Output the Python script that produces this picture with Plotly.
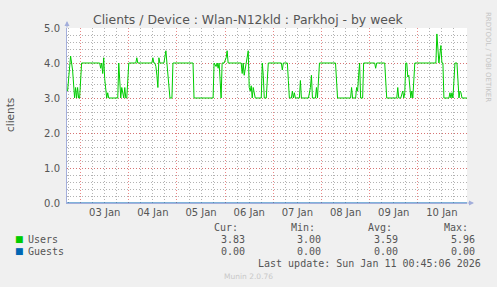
import plotly.graph_objects as go

# ---------------- data ----------------
user_times = [
    "2026-01-02 17:30", "2026-01-02 19:00", "2026-01-02 20:00", "2026-01-02 21:00", "2026-01-02 21:30",
    "2026-01-02 22:00", "2026-01-02 22:30", "2026-01-02 23:00", "2026-01-02 23:30",
    "2026-01-03 00:30", "2026-01-03 09:30", "2026-01-03 10:00", "2026-01-03 10:30", "2026-01-03 11:00",
    "2026-01-03 11:30", "2026-01-03 12:00", "2026-01-03 13:00", "2026-01-03 13:30", "2026-01-03 14:00",
    "2026-01-03 18:30", "2026-01-03 19:00", "2026-01-03 19:30", "2026-01-03 20:00", "2026-01-03 20:30",
    "2026-01-03 21:30", "2026-01-03 22:00", "2026-01-03 22:30", "2026-01-03 23:00",
    "2026-01-04 00:00", "2026-01-04 03:30", "2026-01-04 04:00", "2026-01-04 04:30", "2026-01-04 11:30",
    "2026-01-04 12:00", "2026-01-04 12:30", "2026-01-04 13:00", "2026-01-04 13:30", "2026-01-04 14:00",
    "2026-01-04 14:30", "2026-01-04 15:00", "2026-01-04 15:30", "2026-01-04 17:30", "2026-01-04 18:30",
    "2026-01-04 19:00", "2026-01-04 19:30", "2026-01-04 20:00", "2026-01-04 20:30", "2026-01-04 21:30",
    "2026-01-04 22:00",
    "2026-01-05 08:00", "2026-01-05 08:30", "2026-01-05 18:00", "2026-01-05 18:30", "2026-01-05 19:30",
    "2026-01-05 20:00", "2026-01-05 20:30", "2026-01-05 21:00", "2026-01-05 22:00", "2026-01-05 22:30",
    "2026-01-05 23:30",
    "2026-01-06 00:30", "2026-01-06 01:00", "2026-01-06 01:30", "2026-01-06 08:00", "2026-01-06 08:30",
    "2026-01-06 09:00", "2026-01-06 09:30", "2026-01-06 10:30", "2026-01-06 11:00", "2026-01-06 11:30",
    "2026-01-06 12:00", "2026-01-06 12:30", "2026-01-06 13:00", "2026-01-06 13:30", "2026-01-06 14:00",
    "2026-01-06 14:30", "2026-01-06 15:00", "2026-01-06 18:00", "2026-01-06 18:30", "2026-01-06 19:00",
    "2026-01-06 19:30", "2026-01-06 20:30", "2026-01-06 21:30",
    "2026-01-07 04:00", "2026-01-07 04:30", "2026-01-07 05:00", "2026-01-07 07:00", "2026-01-07 07:30",
    "2026-01-07 08:00", "2026-01-07 09:00", "2026-01-07 09:30", "2026-01-07 10:00", "2026-01-07 10:30",
    "2026-01-07 11:00", "2026-01-07 13:00", "2026-01-07 13:30", "2026-01-07 14:00", "2026-01-07 17:30",
    "2026-01-07 18:30", "2026-01-07 19:00", "2026-01-07 19:30", "2026-01-07 21:00", "2026-01-07 21:30",
    "2026-01-07 22:00", "2026-01-07 23:00",
    "2026-01-08 07:00", "2026-01-08 08:00", "2026-01-08 14:30", "2026-01-08 15:00", "2026-01-08 15:30",
    "2026-01-08 17:00", "2026-01-08 17:30", "2026-01-08 18:00", "2026-01-08 18:30", "2026-01-08 19:00",
    "2026-01-08 19:30", "2026-01-08 20:30", "2026-01-08 21:00",
    "2026-01-09 02:30", "2026-01-09 03:00", "2026-01-09 03:30", "2026-01-09 07:30", "2026-01-09 08:30",
    "2026-01-09 13:30", "2026-01-09 14:00", "2026-01-09 14:30", "2026-01-09 15:30", "2026-01-09 16:30",
    "2026-01-09 17:00", "2026-01-09 17:30", "2026-01-09 18:00", "2026-01-09 18:30", "2026-01-09 19:00",
    "2026-01-09 19:30", "2026-01-09 20:30", "2026-01-09 21:00", "2026-01-09 21:30", "2026-01-09 22:30",
    "2026-01-10 09:00", "2026-01-10 09:30", "2026-01-10 10:30", "2026-01-10 11:30", "2026-01-10 12:00",
    "2026-01-10 12:30", "2026-01-10 13:00", "2026-01-10 15:30", "2026-01-10 16:00", "2026-01-10 16:30",
    "2026-01-10 17:00", "2026-01-10 17:30", "2026-01-10 18:30", "2026-01-10 19:30", "2026-01-10 20:30",
    "2026-01-10 21:00", "2026-01-10 21:30", "2026-01-10 22:00",
    "2026-01-11 00:30",
]
user_values = [
    3.2, 4.2, 3.8, 3.0, 3.3,
    3.0, 3.3, 3.0, 3.0,
    4.0, 4.0, 3.85, 4.0, 3.7,
    4.15, 3.55, 3.0, 3.15, 3.0,
    3.0, 4.0, 3.5, 3.0, 3.3,
    3.0, 3.3, 3.0, 3.0,
    4.0, 4.0, 4.15, 4.0, 4.0,
    4.15, 4.0, 4.0, 3.9, 3.65,
    3.3, 4.15, 4.0, 4.0, 4.35,
    4.0, 3.65, 3.15, 3.0, 3.0,
    4.0,
    4.0, 3.0, 3.0, 4.0, 3.9,
    4.0, 3.85, 4.0, 3.0, 4.0,
    4.0,
    4.15, 4.35, 4.0, 4.0, 3.7,
    4.0, 3.65, 4.0, 4.15, 4.35,
    3.3, 3.2, 3.35, 3.0, 3.3,
    3.1, 3.0, 3.0, 4.0, 3.65,
    3.0, 3.0, 4.0,
    4.0, 3.8, 4.0, 4.0, 3.5,
    3.0, 3.0, 3.2, 3.0, 3.15,
    3.0, 3.0, 3.5, 3.0, 3.0,
    3.3, 3.65, 3.0, 3.0, 3.3,
    3.0, 4.0,
    4.0, 3.0, 3.0, 3.3, 3.0,
    3.0, 3.3, 3.2, 3.65, 4.0,
    3.0, 3.0, 4.0,
    4.0, 3.85, 4.0, 4.0, 3.0,
    3.0, 3.3, 3.0, 3.0, 3.2,
    3.0, 3.15, 4.0, 4.0, 3.6,
    3.65, 3.0, 3.2, 3.0, 4.0,
    4.0, 4.83, 4.0, 4.5, 4.0,
    4.0, 3.0, 3.0, 3.15, 3.0,
    3.15, 3.0, 4.0, 4.0, 3.0,
    3.2, 3.15, 3.0,
    3.0,
]
guest_times = ["2026-01-02 17:13", "2026-01-11 00:30"]
guest_values = [0.0, 0.0]

x_range = ["2026-01-02 17:13", "2026-01-11 00:30"]
y_ticks = [0, 1, 2, 3, 4, 5]
y_tick_labels = ["0.0", "1.0", "2.0", "3.0", "4.0", "5.0"]

series_names = ["Users", "Guests"]
series_colors = ["#00cc00", "#0066b3"]
stat_headers = ["Cur:", "Min:", "Avg:", "Max:"]
users_stats = ["3.83", "3.00", "3.59", "5.96"]
guests_stats = ["0.00", "0.00", "0.00", "0.00"]

title_text = "Clients / Device : Wlan-N12kld : Parkhoj - by week"
y_title = "clients"
last_update = "Last update: Sun Jan 11 00:45:06 2026"
footer = "Munin 2.0.76"
side_text = "RRDTOOL / TOBI OETIKER"

# ---------------- layout helpers ----------------
W, H = 497, 287
PL, PR, PT, PB = 67, 467, 28, 203
TEXT = "#555555"
AXIS = "#a3aedb"
MAJ = "rgba(225,95,95,0.75)"
MIN = "rgba(165,165,165,0.85)"


def xp(px):
    return (px - PL) / (PR - PL)


def yp(py):
    return (PB - py) / (PB - PT)


fig = go.Figure()
fig.add_trace(go.Scatter(x=user_times, y=user_values, mode="lines", name=series_names[0],
                         line=dict(color=series_colors[0], width=1), hoverinfo="skip"))
fig.add_trace(go.Scatter(x=guest_times, y=guest_values, mode="lines", name=series_names[1],
                         line=dict(color=series_colors[1], width=1), hoverinfo="skip"))

fig.update_layout(
    width=W, height=H, autosize=False,
    margin=dict(l=PL, r=W - PR, t=PT, b=H - PB),
    paper_bgcolor="#f0f0f0", plot_bgcolor="#ffffff",
    showlegend=False,
    font=dict(family="DejaVu Sans", size=10, color=TEXT),
)
fig.update_xaxes(
    type="date", range=x_range,
    tick0="2026-01-03", dtick=86400000, tickformat="%d %b", ticklabelmode="period",
    showgrid=True, gridcolor=MAJ, griddash="1px,2px", gridwidth=1,
    minor=dict(dtick=21600000, showgrid=True, gridcolor=MIN, griddash="1px,2px", gridwidth=1, ticks=""),
    showline=True, linecolor=AXIS, linewidth=1, ticks="", zeroline=False,
    tickfont=dict(family="DejaVu Sans", size=10, color=TEXT),
)
fig.update_yaxes(
    range=[0, 5], tickvals=y_ticks, ticktext=y_tick_labels,
    showgrid=True, gridcolor=MAJ, griddash="1px,2px", gridwidth=1,
    minor=dict(dtick=0.2, showgrid=True, gridcolor=MIN, griddash="1px,2px", gridwidth=1, ticks=""),
    showline=True, linecolor=AXIS, linewidth=1, zeroline=False,
    ticks="outside", ticklen=4, tickcolor="rgba(0,0,0,0)",
    tickfont=dict(family="DejaVu Sans", size=10, color=TEXT),
)

ann = []
# title
ann.append(dict(text=title_text, x=xp(248), y=yp(19), xanchor="center", yanchor="middle",
                font=dict(family="DejaVu Sans", size=12.4, color=TEXT)))
# y title
ann.append(dict(text=y_title, x=xp(10), y=yp(115), textangle=-90, xanchor="center", yanchor="middle",
                font=dict(family="DejaVu Sans", size=10.5, color=TEXT)))
# side text
ann.append(dict(text=side_text, x=xp(488), y=yp(57), textangle=90, xanchor="center", yanchor="middle",
                font=dict(family="DejaVu Sans", size=7, color="#c4c4c4")))
# axis arrows
ann.append(dict(text="", x=0, y=yp(21), ax=0, ay=8, showarrow=True, arrowhead=2, arrowsize=1,
                arrowwidth=1, arrowcolor=AXIS))
ann.append(dict(text="", x=xp(474), y=0, ax=-8, ay=0, showarrow=True, arrowhead=2, arrowsize=1,
                arrowwidth=1, arrowcolor=AXIS))

MONO = dict(family="DejaVu Sans Mono", size=10, color=TEXT)
col_ends_hdr = [240, 317, 393.5, 470]
col_ends_val = [246.7, 323.3, 400, 476.7]
row_y = [239.3, 251]
for i, h in enumerate(stat_headers):
    ann.append(dict(text=h, x=xp(col_ends_hdr[i]), y=yp(227.7), xanchor="right", yanchor="middle", font=MONO))
for r, (name, stats) in enumerate(zip(series_names, [users_stats, guests_stats])):
    ann.append(dict(text="■", x=xp(13), y=yp(row_y[r]), xanchor="left", yanchor="middle",
                    font=dict(family="DejaVu Sans", size=9, color=series_colors[r])))
    ann.append(dict(text=name, x=xp(26), y=yp(row_y[r]), xanchor="left", yanchor="middle", font=MONO))
    for i, v in enumerate(stats):
        ann.append(dict(text=v, x=xp(col_ends_val[i]), y=yp(row_y[r]), xanchor="right", yanchor="middle",
                        font=MONO))
ann.append(dict(text=last_update, x=xp(482.5), y=yp(263.3), xanchor="right", yanchor="middle", font=MONO))
ann.append(dict(text=footer, x=xp(248), y=yp(276.3), xanchor="center", yanchor="middle",
                font=dict(family="DejaVu Sans", size=7.5, color="#c8c8c8")))

for a in ann:
    a.setdefault("showarrow", False)
    a["xref"] = "paper"
    a["yref"] = "paper"
fig.update_layout(annotations=ann)

fig.write_html("out.html")
